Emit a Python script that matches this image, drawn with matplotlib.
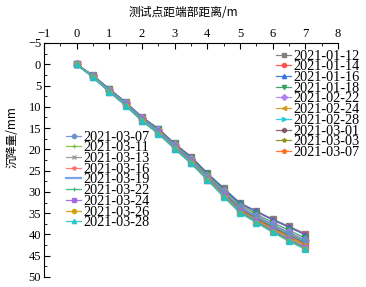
import matplotlib
matplotlib.use("Agg")
import matplotlib.pyplot as plt
from matplotlib.ticker import MultipleLocator

# distance from end (m)
x = [0, 0.5, 1, 1.5, 2, 2.5, 3, 3.5, 4, 4.5, 5, 5.5, 6, 6.5, 7]

# settlement (mm) per survey date
s0112 = [0, 2.6, 5.8, 8.9, 12.4, 15.1, 18.6, 21.7, 25.6, 29.1, 32.6, 34.5, 36.4, 38.1, 39.8]
s0114 = [0, 2.7, 5.9, 9.0, 12.5, 15.2, 18.7, 21.8, 25.7, 29.3, 32.8, 34.7, 36.6, 38.3, 40.0]
s0116 = [0, 2.6, 5.8, 8.9, 12.4, 15.2, 18.7, 21.8, 25.6, 29.2, 32.7, 34.6, 36.5, 38.3, 40.1]
s0118 = [0, 2.7, 5.9, 9.0, 12.6, 15.3, 18.8, 22.0, 25.9, 29.5, 33.1, 35.2, 37.2, 39.0, 40.9]
s0222 = [0, 2.8, 6.0, 9.1, 12.7, 15.5, 19.0, 22.3, 26.2, 29.9, 33.5, 35.6, 37.6, 39.5, 41.3]
s0224 = [0, 2.8, 6.1, 9.2, 12.8, 15.6, 19.1, 22.4, 26.3, 30.1, 33.7, 35.8, 37.9, 39.8, 41.6]
s0228 = [0, 2.8, 6.1, 9.2, 12.8, 15.6, 19.2, 22.5, 26.4, 30.2, 33.9, 36.0, 38.1, 40.0, 41.8]
s0301 = [0, 2.9, 6.2, 9.3, 12.9, 15.8, 19.3, 22.6, 26.5, 30.3, 34.0, 36.2, 38.3, 40.2, 42.0]
s0303 = [0, 2.9, 6.2, 9.3, 13.0, 15.9, 19.4, 22.7, 26.6, 30.5, 34.2, 36.4, 38.5, 40.5, 42.3]
s0307 = [0, 2.9, 6.3, 9.4, 13.0, 15.9, 19.5, 22.8, 26.7, 30.6, 34.3, 36.5, 38.7, 40.7, 42.5]
s0307b = [0, 2.8, 6.1, 9.2, 12.8, 15.6, 19.1, 22.4, 26.3, 30.0, 33.6, 35.7, 37.7, 39.6, 41.4]
s0311 = [0, 2.9, 6.3, 9.4, 13.1, 16.0, 19.6, 22.9, 26.8, 30.7, 34.4, 36.7, 38.9, 40.9, 42.8]
s0313 = [0, 3.0, 6.3, 9.5, 13.1, 16.0, 19.6, 23.0, 26.9, 30.8, 34.5, 36.8, 39.0, 41.0, 42.9]
s0316 = [0, 3.0, 6.4, 9.5, 13.2, 16.1, 19.7, 23.0, 26.9, 30.9, 34.6, 36.9, 39.1, 41.2, 43.1]
s0319 = [0, 3.0, 6.4, 9.6, 13.2, 16.1, 19.7, 23.1, 27.0, 30.9, 34.7, 37.0, 39.2, 41.3, 43.2]
s0322 = [0, 3.0, 6.4, 9.6, 13.2, 16.2, 19.8, 23.1, 27.0, 31.0, 34.7, 37.0, 39.3, 41.3, 43.3]
s0324 = [0, 3.0, 6.4, 9.6, 13.3, 16.2, 19.8, 23.2, 27.1, 31.0, 34.8, 37.1, 39.3, 41.4, 43.3]
s0326 = [0, 3.0, 6.5, 9.7, 13.3, 16.3, 19.9, 23.2, 27.1, 31.1, 34.9, 37.2, 39.4, 41.5, 43.4]
s0328 = [0, 3.1, 6.5, 9.7, 13.4, 16.3, 19.9, 23.3, 27.2, 31.1, 34.9, 37.2, 39.5, 41.6, 43.5]

right_labels = ["2021-01-12", "2021-01-14", "2021-01-16", "2021-01-18", "2021-02-22",
                "2021-02-24", "2021-02-28", "2021-03-01", "2021-03-03", "2021-03-07"]
left_labels = ["2021-03-07", "2021-03-11", "2021-03-13", "2021-03-16", "2021-03-19",
               "2021-03-22", "2021-03-24", "2021-03-26", "2021-03-28"]

right_data = [s0112, s0114, s0116, s0118, s0222, s0224, s0228, s0301, s0303, s0307]
left_data = [s0307b, s0311, s0313, s0316, s0319, s0322, s0324, s0326, s0328]

right_styles = [("#7a7a7a", "s"), ("#ff4a4a", "o"), ("#2f6ee0", "^"), ("#2e9e5e", "v"),
                ("#b07ef0", "D"), ("#cc9a1c", "<"), ("#1ccfd8", ">"), ("#7d5565", "h"),
                ("#8c8c10", "*"), ("#ff6a1a", "p")]
left_styles = [("#6a8fd0", "o"), ("#7cc040", "+"), ("#959595", "x"), ("#ff6a6a", "*"),
               ("#6a9ae8", None), ("#2fb46a", "|"), ("#a064e0", "s"), ("#d4a000", "o"),
               ("#1cc4c8", "^")]

plt.rcParams['font.family'] = ['Liberation Serif', 'Noto Sans CJK SC']
plt.rcParams['axes.unicode_minus'] = True

fig = plt.figure(figsize=(3.66, 2.87), dpi=100)
ax = fig.add_axes([44 / 366, 1 - 277 / 287, 294 / 366, 234 / 287])

right_handles = []
for d, lab, (c, m) in zip(right_data, right_labels, right_styles):
    h, = ax.plot(x, d, color=c, marker=m, markersize=3.8, lw=0.9, alpha=0.9, label=lab)
    right_handles.append(h)

left_handles = []
for d, lab, (c, m) in zip(left_data, left_labels, left_styles):
    lw = 1.6 if m is None else 0.9
    h, = ax.plot(x, d, color=c, marker=m, markersize=3.8, lw=lw, alpha=0.9, label=lab)
    left_handles.append(h)

ax.set_xlim(-1, 8)
ax.set_ylim(50, -5)
ax.xaxis.tick_top()
ax.xaxis.set_label_position('top')
ax.set_xticks(range(-1, 9))
ax.set_yticks(range(-5, 51, 5))
ax.xaxis.set_minor_locator(MultipleLocator(0.5))
ax.yaxis.set_minor_locator(MultipleLocator(2.5))
ax.tick_params(axis='both', which='major', direction='in', length=4, width=0.8,
               labelsize=9, pad=2)
ax.tick_params(axis='both', which='minor', direction='in', length=2, width=0.6)
ax.tick_params(axis='x', which='both', top=True, bottom=False)
ax.tick_params(axis='y', which='both', left=True, right=False)
ax.spines['right'].set_visible(False)
ax.spines['bottom'].set_visible(False)

fig.text(183 / 366, 1 - 12 / 287, "测试点距端部距离/m", ha='center', va='center',
         fontsize=8.5, family=['Noto Sans CJK SC', 'Liberation Serif'])
fig.text(12 / 366, 1 - 137 / 287, "沉降量/mm", ha='center', va='center', rotation=90,
         fontsize=8.5, family=['Noto Sans CJK SC', 'Liberation Serif'])

leg_kw = dict(bbox_transform=fig.transFigure, frameon=False, fontsize=10.3,
              labelspacing=-0.16, handlelength=1.05, handletextpad=0.15, borderpad=0,
              borderaxespad=0, loc='upper left', markerscale=0.8)
leg1 = ax.legend(handles=right_handles, bbox_to_anchor=(276 / 366, 1 - 49.5 / 287), **leg_kw)
ax.add_artist(leg1)
ax.legend(handles=left_handles, bbox_to_anchor=(66 / 366, 1 - 130.5 / 287), **leg_kw)

fig.savefig("out.png", dpi=100)
